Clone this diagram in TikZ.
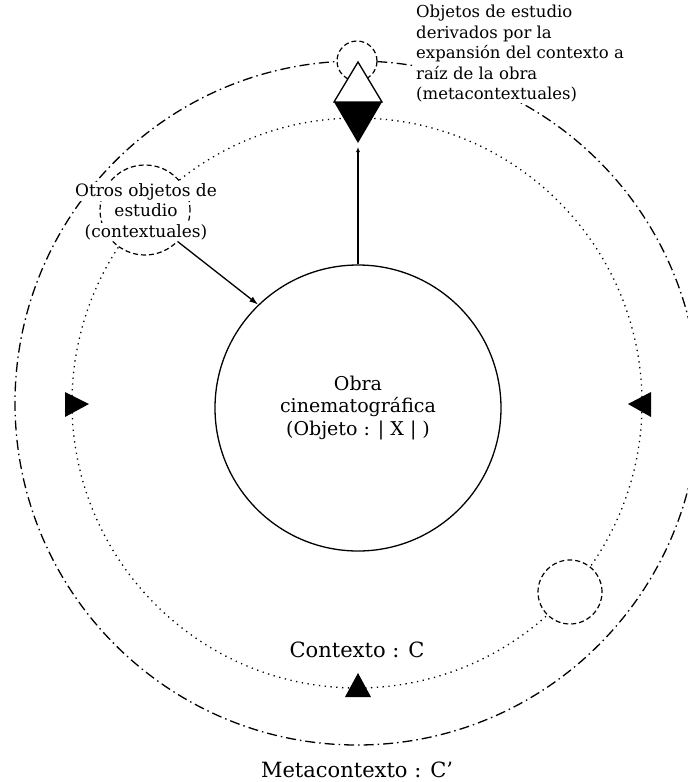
\documentclass[tikz,border=0pt]{standalone}
\usepackage{fontspec}
\setmainfont{DejaVu Serif}
\usetikzlibrary{arrows.meta,positioning}

\newcommand\bigtxt{\fontsize{21}{23}\selectfont}
\newcommand\objtxt{\fontsize{19}{22.5}\selectfont}
\newcommand\midtxt{\fontsize{17}{21}\selectfont}
\newcommand\smalltxt{\fontsize{16.5}{20.5}\selectfont}

\tikzset{
	ctx/.style={line width=1.3pt, dash pattern=on 1.3pt off 4.5pt},
	meta/.style={line width=1.3pt, dash pattern=on 10pt off 4pt on 1.5pt off 4pt},
	hole/.style={circle, draw, fill=white, inner sep=0pt, line width=1.2pt, dash pattern=on 5pt off 3pt},
	lbl/.style={fill=white, inner sep=1pt, font=\midtxt, anchor=base},
	obj/.style={circle, draw, line width=1.3pt, align=center, font=\objtxt},
}

\begin{document}
\begin{tikzpicture}[x=1pt, y=-1pt]
			\useasboundingbox (0,0) rectangle (688,782);

			% contexto and metacontexto
			\draw[ctx]	(357,403) circle (285pt);
			\draw[meta]	(357,403) circle (342pt);

			% the film itself
			\node[obj, minimum size=286pt] (obra) at (358,408)
				{Obra\\cinematográfica\\(Objeto : | X | )};

			% other objects sitting on the circles
			\node[hole, minimum size=40pt] (deriv) at (357,61) {};
			\node[hole, minimum size=90pt] (otros) at (145,210) {};
			\node[hole, minimum size=64pt] (libre) at (570,592) {};

			% label of the contextual objects, one line at a time
			\node[lbl] (otros1) at (146,196) {Otros objetos de};
			\node[lbl] (otros2) at (146,216) {estudio};
			\node[lbl] (otros3) at (146,237) {(contextuales)};

			% label of the metacontextual objects
			\node[fill=white, inner sep=1pt, font=\smalltxt, align=left, anchor=north west] (derivlbl) at (415,4)
				{Objetos de estudio\\derivados por la\\expansión del contexto a\\raíz de la obra\\(metacontextuales)};

			% markers
			\draw[line width=1.3pt, fill=white]	(358,62) -- (382,102) -- (334,102) -- cycle;
			\fill	(334,102) -- (382,102) -- (358,143) -- cycle;
			\fill	(65,392) -- (65,417) -- (89,404) -- cycle;
			\fill	(651,392) -- (651,417) -- (628,404) -- cycle;
			\fill	(345,697) -- (371,697) -- (358,673) -- cycle;
			\coordinate (punta) at (358,147);

			% arrows
			\draw[line width=1.3pt, -{Latex[length=5pt, width=4pt]}]	(obra.north) -- (punta);
			\draw[line width=1.3pt, -{Latex[length=9pt, width=6pt]}]	(otros.-44) -- (obra.134);

			% names of the circles
			\node[font=\bigtxt] (ctxlbl) at (357,650) {Contexto : C};
			\node[font=\bigtxt] (metalbl) at (357,770) {Metacontexto : C’};
\end{tikzpicture}
\end{document}
